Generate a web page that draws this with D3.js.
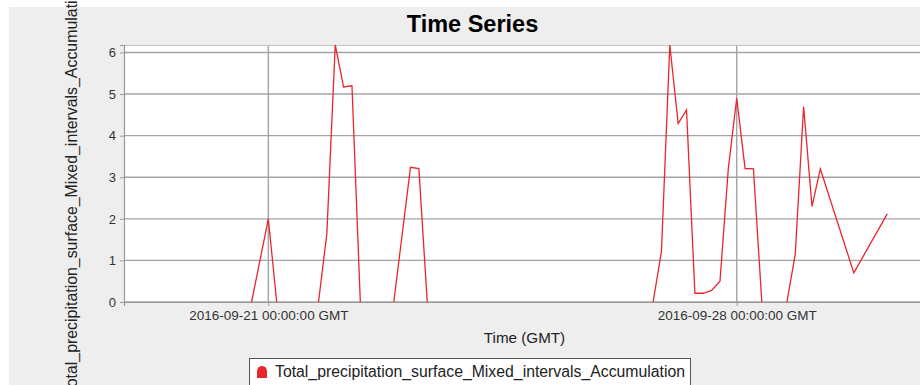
<!DOCTYPE html>
<html><head><meta charset="utf-8">
<script src="https://cdn.jsdelivr.net/npm/d3@7"></script>
<style>
html,body{margin:0;padding:0;background:#fff;}
svg{display:block;font-family:"Liberation Sans",Arial,Helvetica,sans-serif;}
</style></head>
<body>
<svg id="chart" width="920" height="385"></svg>
<script>
// ---- data ----
const times = [
  "2016-09-20T18:00Z","2016-09-21T00:00Z","2016-09-21T03:00Z","2016-09-21T18:00Z",
  "2016-09-21T21:00Z","2016-09-22T00:00Z","2016-09-22T03:00Z","2016-09-22T06:00Z",
  "2016-09-22T09:00Z","2016-09-22T21:00Z","2016-09-23T03:00Z","2016-09-23T06:00Z",
  "2016-09-23T09:00Z","2016-09-26T18:00Z","2016-09-26T21:00Z","2016-09-27T00:00Z",
  "2016-09-27T03:00Z","2016-09-27T06:00Z","2016-09-27T09:00Z","2016-09-27T12:00Z",
  "2016-09-27T15:00Z","2016-09-27T18:00Z","2016-09-27T21:00Z","2016-09-28T00:00Z",
  "2016-09-28T03:00Z","2016-09-28T06:00Z","2016-09-28T09:00Z","2016-09-28T18:00Z",
  "2016-09-28T21:00Z","2016-09-29T00:00Z","2016-09-29T03:00Z","2016-09-29T06:00Z",
  "2016-09-29T18:00Z","2016-09-30T06:00Z"
];
const values = [
  0, 2.0, 0, 0,
  1.65, 6.18, 5.17, 5.2,
  0, 0, 3.24, 3.21,
  0, 0, 1.21, 6.18,
  4.29, 4.62, 0.21, 0.21,
  0.28, 0.5, 3.22, 4.9,
  3.21, 3.2, 0, 0,
  1.15, 4.7, 2.3, 3.2,
  0.7, 2.12
];
const seriesName = "Total_precipitation_surface_Mixed_intervals_Accumulation";
const yTicks = [0, 1, 2, 3, 4, 5, 6];
const xTickDates = ["2016-09-21T00:00Z", "2016-09-28T00:00Z"];
const xTickLabels = ["2016-09-21 00:00:00 GMT", "2016-09-28 00:00:00 GMT"];
const xDomain = ["2016-09-18T20:14Z", "2016-09-30T19:32Z"];
const yDomain = [0, 6.18];
const titleText = "Time Series";
const xLabel = "Time (GMT)";

// ---- layout ----
const svg = d3.select("#chart");
const plot = {left: 124, top: 45, right: 925, bottom: 302};
const gridColor = "#a3a3a3";

svg.append("rect").attr("x", 9).attr("y", 7).attr("width", 1000).attr("height", 400).attr("fill", "#eeeeee");

const x = d3.scaleUtc().domain(xDomain.map(d => new Date(d))).range([plot.left, plot.right]);
const y = d3.scaleLinear().domain(yDomain).range([plot.bottom, plot.top]);

svg.append("rect").attr("x", plot.left).attr("y", plot.top)
  .attr("width", plot.right - plot.left).attr("height", plot.bottom - plot.top)
  .attr("fill", "#ffffff");

// grid
const gy = svg.append("g");
gy.selectAll("line").data(yTicks).join("line")
  .attr("x1", plot.left).attr("x2", plot.right)
  .attr("y1", d => y(d)).attr("y2", d => y(d))
  .attr("stroke", gridColor).attr("stroke-width", 1.4);
const gx = svg.append("g");
gx.selectAll("line").data(xTickDates).join("line")
  .attr("x1", d => x(new Date(d))).attr("x2", d => x(new Date(d)))
  .attr("y1", plot.top).attr("y2", plot.bottom)
  .attr("stroke", gridColor).attr("stroke-width", 1.4);

// top border
svg.append("line").attr("x1", plot.left).attr("x2", plot.right)
  .attr("y1", plot.top + 0.5).attr("y2", plot.top + 0.5)
  .attr("stroke", "#c4c4c4").attr("stroke-width", 1);

// data line, split where consecutive zeros lie on the axis
svg.append("clipPath").attr("id", "clip").append("rect")
  .attr("x", plot.left).attr("y", plot.top - 1)
  .attr("width", plot.right - plot.left).attr("height", plot.bottom - plot.top + 1);
const pts = times.map((t, i) => ({t: new Date(t), v: values[i]}));
const runs = [];
let cur = [pts[0]];
for (let i = 1; i < pts.length; i++) {
  if (pts[i - 1].v === 0 && pts[i].v === 0) { runs.push(cur); cur = [pts[i]]; }
  else cur.push(pts[i]);
}
runs.push(cur);
const line = d3.line().x(d => x(d.t)).y(d => y(d.v));
svg.append("g").attr("clip-path", "url(#clip)")
  .selectAll("path").data(runs.filter(r => r.length > 1)).join("path")
  .attr("d", line).attr("fill", "none").attr("stroke", "#e8262b").attr("stroke-width", 1.3)
  .attr("stroke-linejoin", "miter");

// axes
const yAxis = d3.axisLeft(y).tickValues(yTicks).tickSize(4).tickPadding(4).tickFormat(d3.format("d"));
const ya = svg.append("g").attr("transform", `translate(${plot.left},0)`).call(yAxis);
ya.select(".domain").attr("stroke", "#999").attr("stroke-width", 1.2);
ya.selectAll(".tick line").attr("stroke", "#999");
ya.selectAll(".tick text").attr("font-size", 13).attr("fill", "#333").attr("font-family", "Liberation Sans, Arial, sans-serif");

const xAxis = d3.axisBottom(x).tickValues(xTickDates.map(d => new Date(d))).tickSize(4).tickPadding(4)
  .tickFormat((d, i) => xTickLabels[i]);
const xa = svg.append("g").attr("transform", `translate(0,${plot.bottom})`).call(xAxis);
xa.select(".domain").attr("stroke", "#999").attr("stroke-width", 1.2);
xa.selectAll(".tick line").attr("stroke", "#999");
xa.selectAll(".tick text").attr("font-size", 13.5).attr("fill", "#333").attr("font-family", "Liberation Sans, Arial, sans-serif");

// title
svg.append("text").attr("x", 472.5).attr("y", 32).attr("text-anchor", "middle")
  .attr("font-size", 23.5).attr("font-weight", "bold").attr("fill", "#000").text(titleText);

// x label
svg.append("text").attr("x", (plot.left + plot.right) / 2).attr("y", 343).attr("text-anchor", "middle")
  .attr("font-size", 15.2).attr("fill", "#222").text(xLabel);

// y label
svg.append("text").attr("transform", `translate(77,189) rotate(-90)`).attr("text-anchor", "middle")
  .attr("font-size", 15.9).attr("fill", "#222").text(seriesName);

// legend
const lg = svg.append("g");
lg.append("rect").attr("x", 249.5).attr("y", 358.5).attr("width", 441).attr("height", 30)
  .attr("fill", "#fff").attr("stroke", "#555").attr("stroke-width", 1);
lg.append("path").attr("d", "M257,378 L257,372 Q257,366 262,366 Q267,366 267,372 L267,378 Z").attr("fill", "#e8262b");
lg.append("text").attr("x", 275).attr("y", 377).attr("font-size", 15.8).attr("fill", "#222").text(seriesName);
</script>
</body></html>
